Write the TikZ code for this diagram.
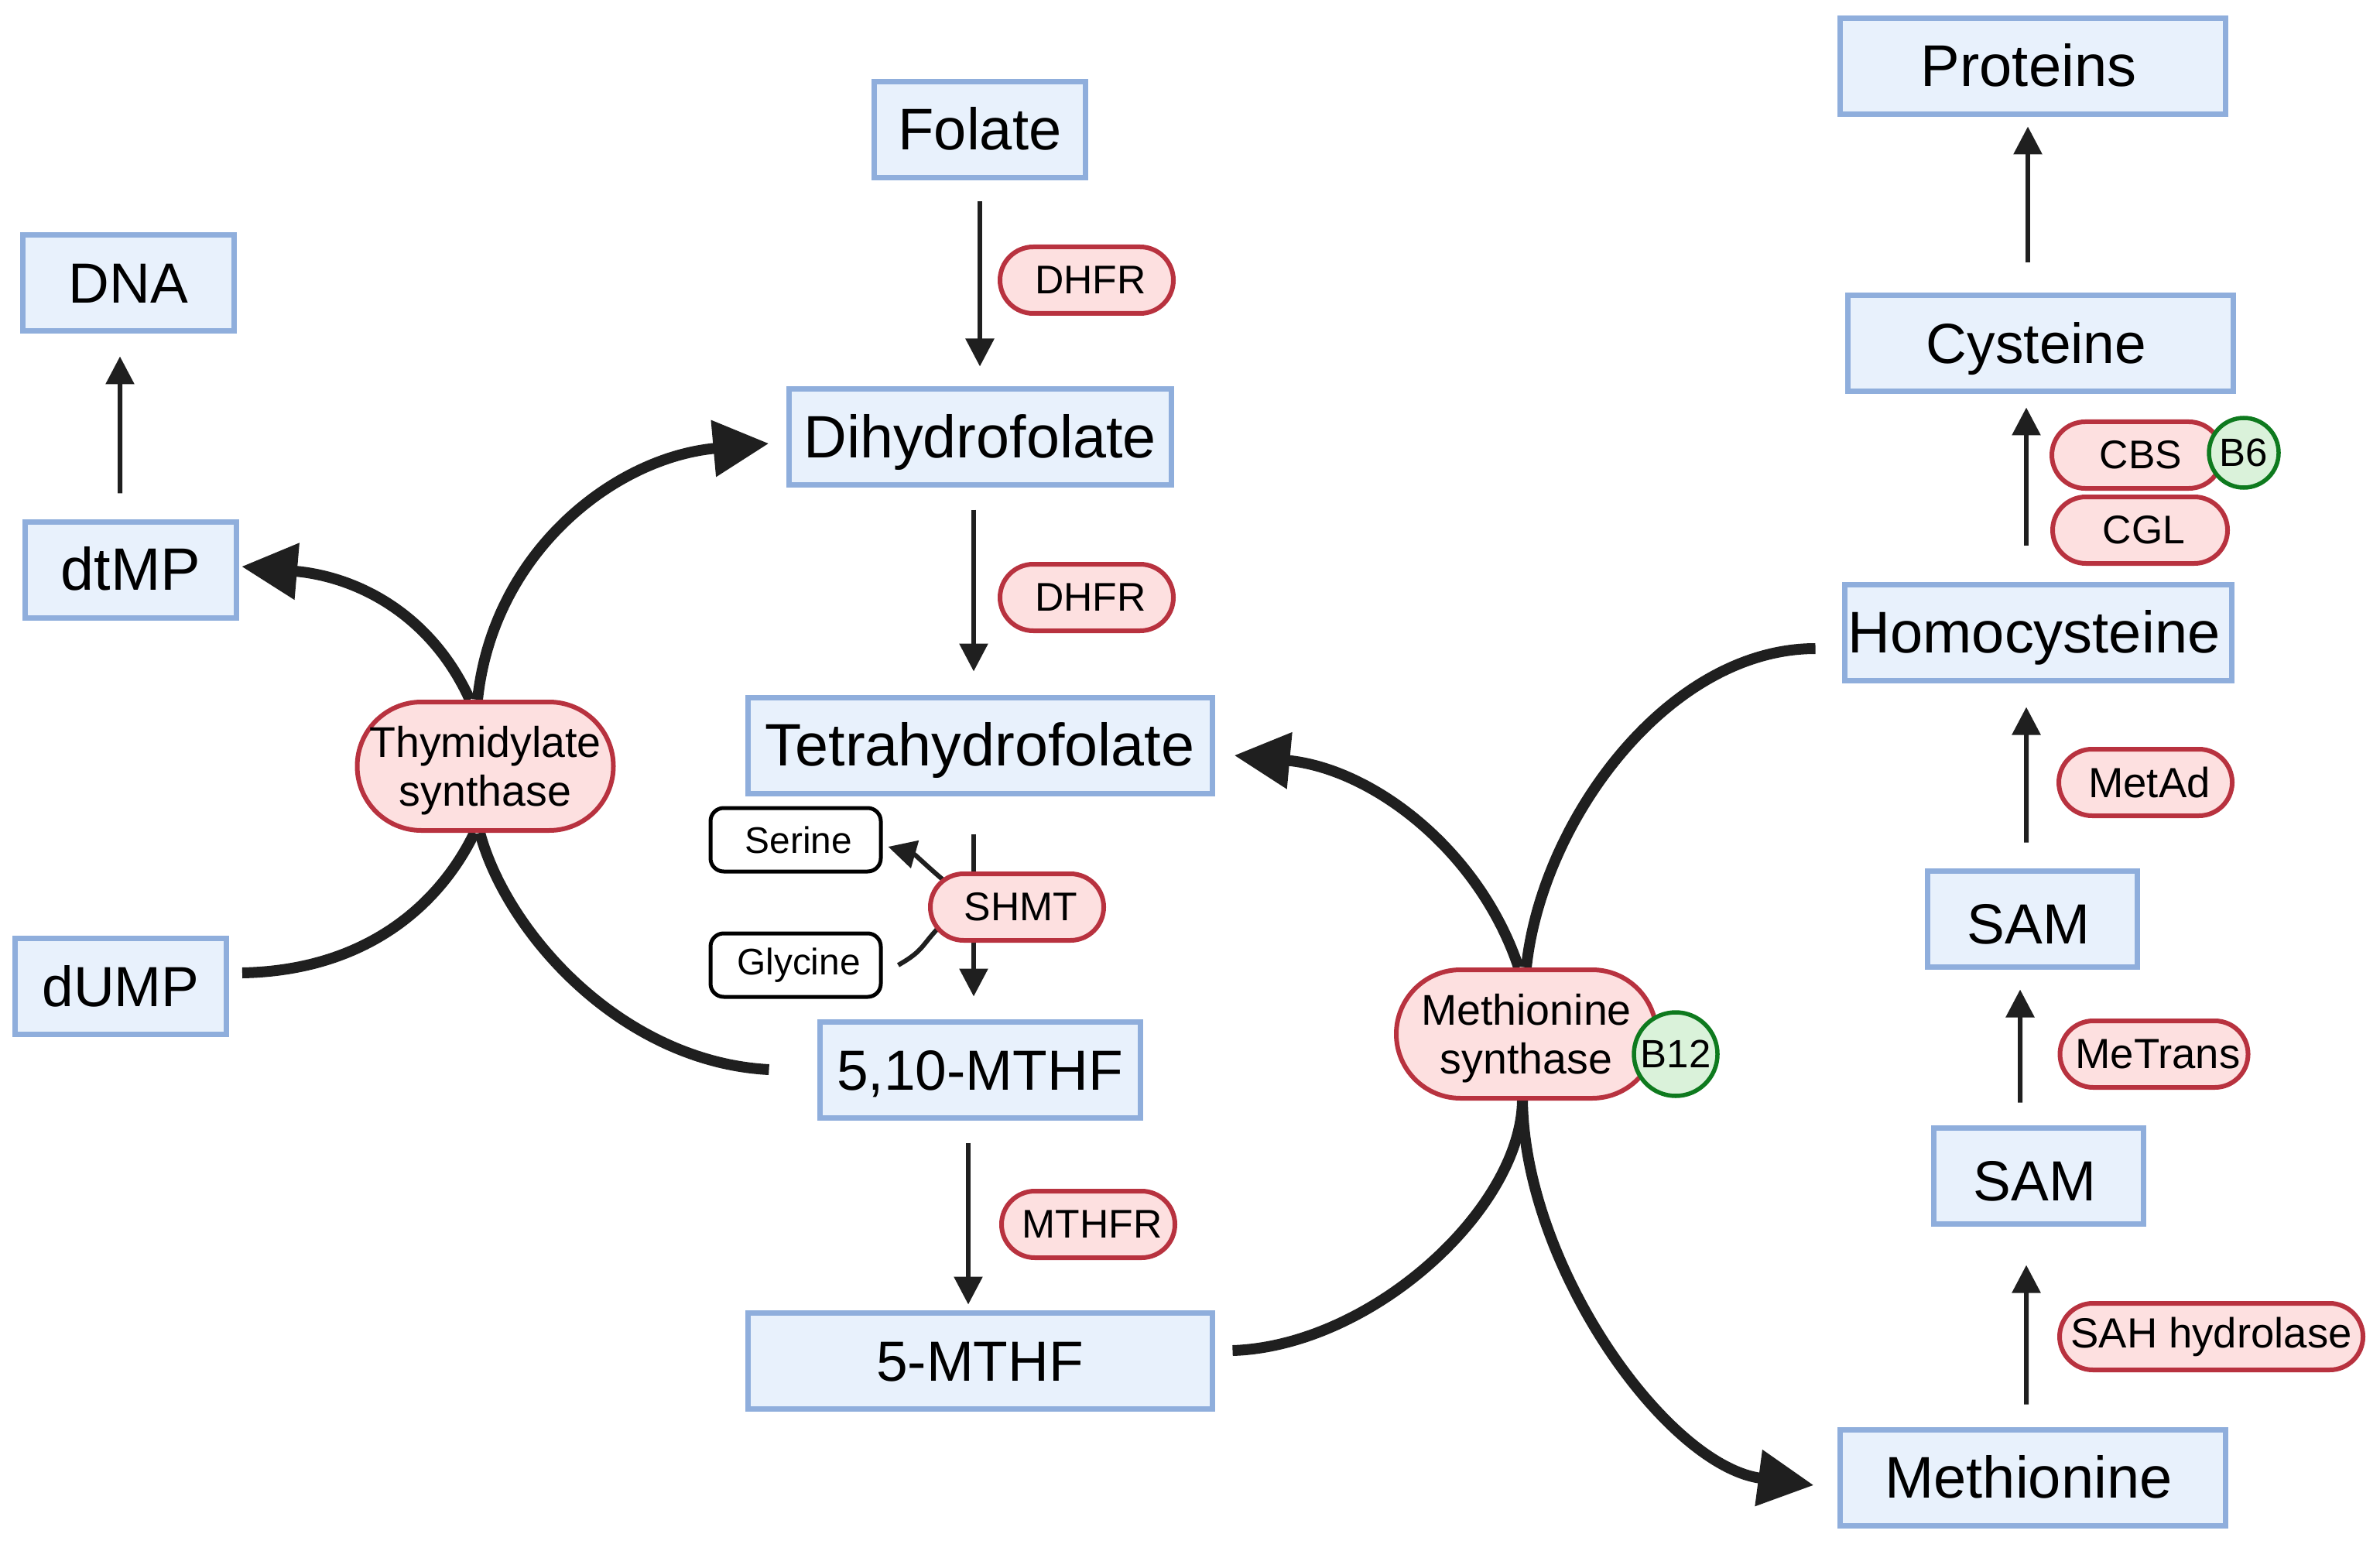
\documentclass[tikz,border=0pt]{standalone}
\usepackage{fontspec}
\setmainfont{Liberation Sans}
\usetikzlibrary{arrows.meta,backgrounds}
\definecolor{boxfill}{HTML}{E8F1FC}
\definecolor{boxline}{HTML}{8FAEDC}
\definecolor{enzfill}{HTML}{FDE0E0}
\definecolor{enzline}{HTML}{B8323F}
\definecolor{vitfill}{HTML}{DAF2DA}
\definecolor{vitline}{HTML}{0E7A1E}
\definecolor{linkgray}{HTML}{1F1F1F}
\begin{document}
\begin{tikzpicture}[
block/.style={rectangle, draw=boxline, fill=boxfill, line width=.07cm, minimum height=1.24cm, inner sep=0pt, text height=.52cm, text depth=0pt, font=\fontsize{21.6}{24}\selectfont},
smallblock/.style={block, font=\fontsize{20.8}{24}\selectfont},
largeblock/.style={block, font=\fontsize{22}{24}\selectfont},
shiftleft/.style={execute at end node={\hspace*{.1cm}}},
pill/.style={rectangle, rounded corners=.43cm, draw=enzline, fill=enzfill, line width=.06cm, minimum height=.86cm, inner sep=0pt, font=\fontsize{14.7}{17}\selectfont},
enzyme/.style={pill, execute at begin node={\hspace*{.1cm}}},
bigenzyme/.style={rectangle, rounded corners=.83cm, draw=enzline, fill=enzfill, line width=.06cm, minimum height=1.66cm, inner sep=0pt, align=center, text depth=0pt, font=\fontsize{15.8}{17.9}\selectfont},
vitamin/.style={circle, draw=vitline, fill=vitfill, line width=.055cm, inner sep=0pt, font=\fontsize{14.5}{17}\selectfont},
metabolite/.style={rectangle, rounded corners=.17cm, draw=black, fill=white, line width=.05cm, minimum width=2.20cm, minimum height=.82cm, inner sep=0pt, execute at begin node={\hspace*{.08cm}}, font=\fontsize{13.6}{16}\selectfont},
link/.style={draw=linkgray, line width=.06cm},
flow/.style={link, ->, >={Triangle[length=.36cm,width=.36cm]}},
biglink/.style={draw=linkgray, line width=.14cm},
bigflow/.style={biglink, ->, >={Triangle[length=.72cm,width=.70cm]}},
]
    \useasboundingbox (0,0) rectangle (30.75,-20.04);

    % Colonne centrale
    \node [block, minimum width=2.73cm] at (12.66,-1.68) (folate) {Folate};
    \node [largeblock, minimum width=4.94cm, below of=folate, node distance=3.97cm] (dihydro) {Dihydrofolate};
    \node [largeblock, minimum width=6.00cm, below of=dihydro, node distance=3.98cm] (tetra) {Tetrahydrofolate};
    \node [smallblock, minimum width=4.14cm, below of=tetra, node distance=4.19cm] (mthf) {5,10-MTHF};
    \node [smallblock, minimum width=6.00cm, below of=mthf, node distance=3.76cm] (fivemthf) {5-MTHF};

    % Colonne de gauche
    \node [smallblock, minimum width=2.73cm] at (1.66,-3.66) (dna) {DNA};
    \node [largeblock, minimum width=2.73cm, below of=dna, node distance=3.70cm, xshift=.03cm] (dtmp) {dtMP};
    \node [smallblock, minimum width=2.73cm, below of=dtmp, node distance=5.38cm, xshift=-.13cm] (dump) {dUMP};

    % Colonne de droite
    \node [block, shiftleft, minimum width=4.98cm] at (26.26,-.86) (proteins) {Proteins};
    \node [smallblock, shiftleft, minimum width=4.98cm, below of=proteins, node distance=3.58cm, xshift=.10cm] (cysteine) {Cysteine};
    \node [block, shiftleft, minimum width=5.00cm, below of=cysteine, node distance=3.73cm, xshift=-.03cm] (homocys) {Homocysteine};
    \node [smallblock, shiftleft, minimum width=2.71cm, text height=.64cm, below of=homocys, node distance=3.70cm, xshift=-.07cm] (samone) {SAM};
    \node [smallblock, shiftleft, minimum width=2.71cm, text height=.64cm, below of=samone, node distance=3.32cm, xshift=.08cm] (samtwo) {SAM};
    \node [block, shiftleft, minimum width=4.98cm, below of=samtwo, node distance=3.90cm, xshift=-.08cm] (methionine) {Methionine};

    % Enzymes
    \node [enzyme, minimum width=2.24cm] at (14.04,-3.62) (dhfrone) {DHFR};
    \node [enzyme, minimum width=2.24cm, below of=dhfrone, node distance=4.10cm] (dhfrtwo) {DHFR};
    \node [enzyme, minimum width=2.24cm, below of=dhfrtwo, node distance=8.10cm, xshift=.02cm] (mthfr) {MTHFR};
    \node [enzyme, minimum width=2.24cm] at (13.14,-11.72) (shmt) {SHMT};
    \node [enzyme, minimum width=2.20cm] at (27.61,-5.88) (cbs) {CBS};
    \node [enzyme, minimum width=2.26cm, below of=cbs, node distance=.97cm, xshift=.04cm] (cgl) {CGL};
    \node [enzyme, font=\fontsize{15.5}{18}\selectfont, minimum width=2.24cm] at (27.72,-10.11) (metad) {MetAd};
    \node [enzyme, font=\fontsize{15.5}{18}\selectfont, minimum width=2.43cm, below of=metad, node distance=3.51cm, xshift=.11cm] (metrans) {MeTrans};
    \node [pill, font=\fontsize{15.5}{18}\selectfont, minimum width=3.92cm, below of=metrans, node distance=3.65cm, xshift=.74cm] (sah) {SAH hydrolase};
    \node [bigenzyme, minimum width=3.31cm] at (6.27,-9.90) (thymsyn) {Thymidylate\\synthase};
    \node [bigenzyme, minimum width=3.36cm] at (19.72,-13.36) (metsyn) {Methionine\\synthase};

    % Vitamines
    \node [vitamin, minimum size=.90cm] at (28.99,-5.85) (bsix) {B6};
    \node [vitamin, minimum size=1.08cm] at (21.65,-13.62) (btwelve) {B12};

    % Serine et glycine
    \node [metabolite] at (10.28,-10.85) (serine) {Serine};
    \node [metabolite, below of=serine, node distance=1.62cm] (glycine) {Glycine};

    % Liens
    \begin{scope}[on background layer]
    \draw [flow, shorten <=.27cm, shorten >=.26cm] (folate.south) -- (dihydro.north);
    \draw [flow, shorten <=.28cm, shorten >=.30cm] ([xshift=-.08cm]dihydro.south) -- ([xshift=-.08cm]tetra.north);
    \draw [flow, shorten <=.49cm, shorten >=.29cm] ([xshift=-.08cm]tetra.south) -- ([xshift=-.08cm]mthf.north);
    \draw [flow, shorten <=.29cm, shorten >=.07cm] ([xshift=-.15cm]mthf.south) -- ([xshift=-.15cm]fivemthf.north);
    \draw [flow, shorten <=.33cm, shorten >=.29cm] ([xshift=-.14cm]dtmp.north) -- ([xshift=-.11cm]dna.south);
    \draw [flow, shorten <=.29cm, shorten >=.50cm] ([xshift=-.08cm]methionine.north) -- ([xshift=-.16cm]samtwo.south);
    \draw [flow, shorten <=.29cm, shorten >=.26cm] ([xshift=-.24cm]samtwo.north) -- ([xshift=-.16cm]samone.south);
    \draw [flow, shorten <=.33cm, shorten >=.31cm] ([xshift=-.08cm]samone.north) -- ([xshift=-.15cm]homocys.south);
    \draw [flow, shorten <=.47cm, shorten >=.17cm] ([xshift=-.15cm]homocys.north) -- ([xshift=-.18cm]cysteine.south);
    \draw [flow, shorten <=.39cm, shorten >=.12cm] ([xshift=-.16cm]cysteine.north) -- ([xshift=-.06cm]proteins.south);
    \draw [flow] (shmt.west) ++(.28,.28) .. controls +(-.3,.25) and +(.35,-.1) .. ([xshift=.07cm,yshift=-.09cm]serine.east);
    \draw [link] ([xshift=.20cm]glycine.east) .. controls +(.35,.2) and +(-.3,-.3) .. ([xshift=.2cm,yshift=-.2cm]shmt.west);

    \draw [biglink] ([xshift=.17cm,yshift=.17cm]dump.east) .. controls +(1.6,.03) and +(-.45,-.93) .. ([xshift=-.14cm]thymsyn.south);
    \draw [biglink] ([xshift=-.62cm]mthf.west) .. controls +(-1.9,.1) and +(.35,-1.3) .. ([xshift=-.07cm]thymsyn.south);
    \draw [bigflow] ([xshift=-.20cm]thymsyn.north) .. controls +(-.5,1.1) and +(1.5,-.13) .. ([xshift=.03cm,yshift=.04cm]dtmp.east);
    \draw [bigflow] ([xshift=-.10cm]thymsyn.north) .. controls +(.2,1.9) and +(-2.0,-.18) .. ([xshift=-.22cm,yshift=-.08cm]dihydro.west);

    \draw [biglink] ([xshift=-.34cm,yshift=-.21cm]homocys.west) .. controls +(-1.9,0) and +(.2,1.9) .. (metsyn.north);
    \draw [bigflow] ([xshift=-.10cm]metsyn.north) .. controls +(-.5,1.5) and +(1.8,-.17) .. ([xshift=.25cm,yshift=-.13cm]tetra.east);
    \draw [biglink] ([xshift=.23cm,yshift=.13cm]fivemthf.east) .. controls +(1.8,.06) and +(-.02,-1.4) .. ([xshift=-.05cm]metsyn.south);
    \draw [bigflow] ([xshift=-.05cm]metsyn.south) .. controls +(.03,-2.15) and +(-1.9,.25) .. ([xshift=-.30cm,yshift=-.10cm]methionine.west);
    \end{scope}
\end{tikzpicture}
\end{document}
